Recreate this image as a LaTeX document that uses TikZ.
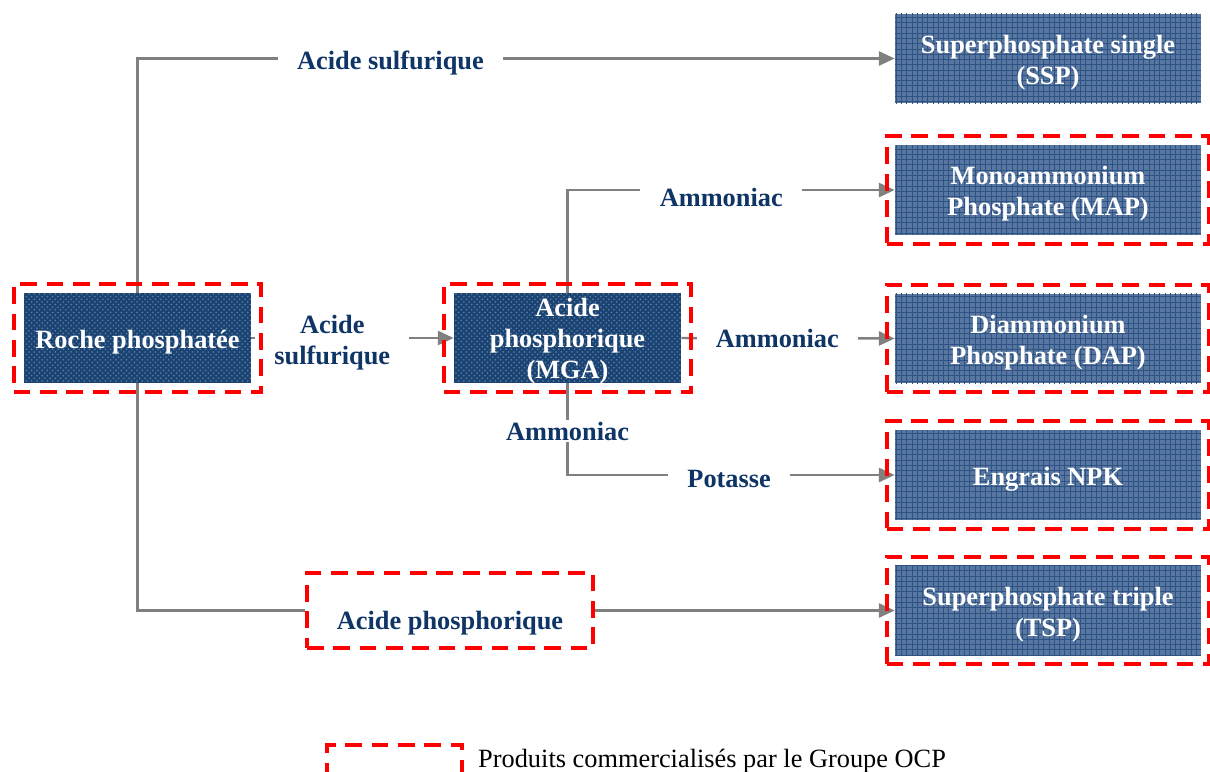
\documentclass[tikz,border=0pt]{standalone}
\usepackage{fontspec}
\setmainfont{Liberation Serif}
\usetikzlibrary{positioning, arrows.meta, fit, patterns}

\definecolor{ocpnavy}{HTML}{1B4372}
\definecolor{ocpdots}{HTML}{5C80AD}
\definecolor{ocpsteel}{HTML}{5877A0}
\definecolor{ocpgrid}{HTML}{2E5283}
\definecolor{ocptext}{HTML}{0F3466}
\definecolor{ocpline}{HTML}{808080}

% pushes the text of a box a little lower
\newcommand{\dropstrut}[1][15pt]{\rule{0pt}{#1}}

\begin{document}
\begin{tikzpicture}[
        x=0.02cm, y=-0.02cm,
        >={Triangle[length=9pt,width=8pt]},
        every node/.style={font=\fontsize{15}{17.6}\selectfont\bfseries, align=center},
        source/.style={fill=ocpnavy, postaction={pattern=crosshatch dots, pattern color=ocpdots},
            text=white, minimum width=4.54cm, minimum height=1.8cm, inner sep=0pt},
        product/.style={fill=ocpsteel, postaction={pattern=grid, pattern color=ocpgrid},
            text=white, minimum width=6.12cm, minimum height=1.8cm, inner sep=0pt},
        flow/.style={draw=ocpline, line width=1.4pt},
        lbl/.style={fill=white, text=ocptext, inner xsep=11pt, inner ysep=1pt},
        ocp/.style={draw=red, line width=2.2pt, dash pattern=on 9.5pt off 5.5pt,
            inner xsep=0.2cm, inner ysep=0.17cm}
    ]
    \useasboundingbox (0,0) rectangle (1210,771);

    % raw material, intermediate and products
    \node[source] (roche) at (137.5,338) {\dropstrut Roche phosphatée};
    \node[source] (mga) at (567.5,338) {Acide\\phosphorique\\\smash{(MGA)}};
    \node[product] (ssp) at (1048,58.5) {\dropstrut Superphosphate single\\(SSP)};
    \node[product] (map) at (1048,190) {\dropstrut Monoammonium\\Phosphate (MAP)};
    \node[product] (dap) at (1048,338.5) {\dropstrut Diammonium\\Phosphate (DAP)};
    \node[product] (npk) at (1048,475) {\dropstrut Engrais NPK};
    \node[product] (tsp) at (1048,610.5) {\dropstrut Superphosphate triple\\(TSP)};
    \node[ocp, fill=white, text=ocptext, minimum width=5.72cm, minimum height=1.5cm]
        (acidp) at (450,610.5) {\dropstrut[25pt]Acide phosphorique};

    % flows
    \draw[flow, ->] (roche.north) |- node[lbl, pos=0.667, yshift=-2.8pt] {Acide sulfurique} (ssp.west);
    \draw[flow, ->] (roche.east) -- node[lbl, pos=0.4, yshift=-2.8pt] {Acide\\sulfurique} (mga.west);
    \draw[flow, ->] (mga.north) |- node[lbl, pos=0.735, yshift=-4pt] {Ammoniac} (map.west);
    \draw[flow, ->] (mga.east) -- node[lbl, pos=0.45] {Ammoniac} (dap.west);
    \draw[flow, ->] (mga.south) |- node[lbl, pos=0.26] {Ammoniac}
        node[lbl, pos=0.747, yshift=-2pt] {Potasse} (npk.west);
    \draw[flow] (roche.south) |- (acidp.west);
    \draw[flow, ->] (acidp.east) -- (tsp.west);

    % OCP products
    \node[ocp, fit=(roche)] {};
    \node[ocp, fit=(mga)] {};
    \node[ocp, fit=(map), inner xsep=0.16cm] {};
    \node[ocp, fit=(dap), inner xsep=0.16cm] {};
    \node[ocp, fit=(npk), inner xsep=0.16cm] {};
    \node[ocp, fit=(tsp), inner xsep=0.16cm] {};

    % legend
    \node[ocp, minimum width=2.7cm, minimum height=1.1cm] (legend) at (394.5,772.5) {};
    \node[font=\fontsize{15}{18}\selectfont, anchor=base west] (legendtext) at (472,767)
        {Produits commercialisés par le Groupe OCP};
\end{tikzpicture}
\end{document}
